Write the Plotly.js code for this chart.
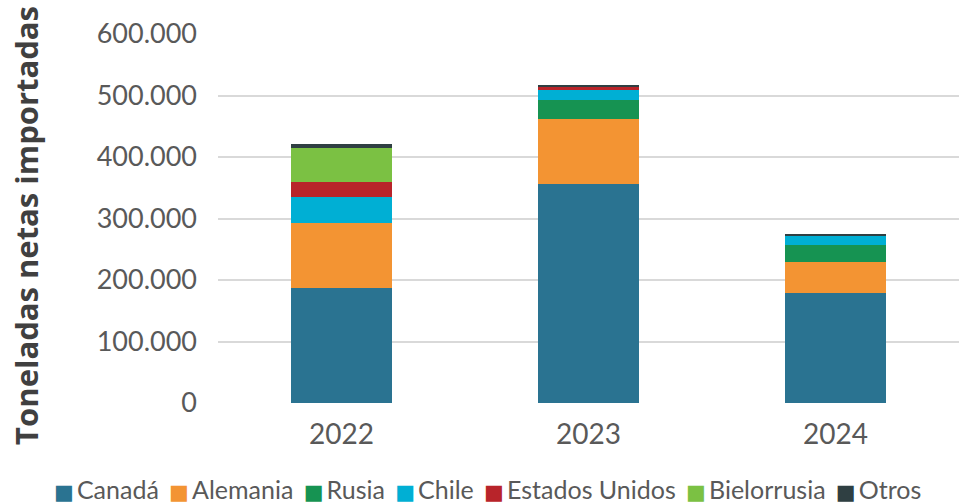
<!DOCTYPE html>
<html><head><meta charset="utf-8">
<script src="https://cdn.plot.ly/plotly-3.0.1.min.js"></script>
<style>body{margin:0;background:#fff}#c{width:959px;height:503px}</style>
</head><body><div id="c"></div>
<script>
const years = ['2022', '2023', '2024'];
const canada = [187000, 356000, 179000];
const alemania = [106000, 106000, 50000];
const rusia = [0, 31000, 28000];
const chile = [42500, 16000, 15000];
const eeuu = [24500, 5000, 0];
const bielorrusia = [54000, 0, 0];
const otros = [6500, 3000, 1500];
const seriesNames = ['Canadá', 'Alemania', 'Rusia', 'Chile', 'Estados Unidos', 'Bielorrusia', 'Otros'];
const seriesVals = [canada, alemania, rusia, chile, eeuu, bielorrusia, otros];
const colors = ['#2a7391', '#f39433', '#169352', '#00afd4', '#b8242a', '#7bc143', '#2f3f42'];
const yTicks = [0, 100000, 200000, 300000, 400000, 500000, 600000];
const yTickText = ['0', '100.000', '200.000', '300.000', '400.000', '500.000', '600.000'];

const traces = seriesNames.map((n, i) => ({
  type: 'bar', name: n, x: years, y: seriesVals[i],
  marker: {color: colors[i], line: {width: 0}}, hoverinfo: 'skip'
}));

const legendText = seriesNames.map((n, i) =>
  '<span style="color:' + colors[i] + ';font-family:DejaVu Sans;font-size:21px">■</span>' +
  '<span style="font-size:12px">&nbsp;</span>' + n).join('<span style="font-size:20px">&nbsp;&nbsp;</span>');

const font = 'Lato, "Open Sans", sans-serif';
Plotly.newPlot('c', traces, {
  width: 959, height: 503,
  barmode: 'stack', bargap: 0.59,
  margin: {l: 218, r: 0, t: 34, b: 100},
  paper_bgcolor: '#fff', plot_bgcolor: '#fff',
  font: {family: font, color: '#595959'},
  xaxis: {tickfont: {size: 28, color: '#595959'}, showline: false, ticks: '', showgrid: false,
          ticklabelstandoff: 12},
  yaxis: {range: [0, 600000], tickvals: yTicks, ticktext: yTickText,
          tickfont: {size: 27, color: '#595959'}, gridcolor: '#d9d9d9', gridwidth: 2,
          zeroline: false, showline: false, ticks: '', ticklabelstandoff: 20},
  showlegend: false,
  annotations: [
    {xref: 'paper', yref: 'paper', x: -0.2591, y: 0.48, xanchor: 'center', yanchor: 'middle',
     text: '<b>Toneladas netas importadas</b>', textangle: -90, showarrow: false,
     font: {size: 31, color: '#404040', family: '"Open Sans", sans-serif'}},
    {xref: 'paper', yref: 'paper', x: 0.3637, y: -0.233, xanchor: 'center', yanchor: 'middle',
     text: legendText, showarrow: false, font: {size: 25, color: '#595959', family: font}}
  ]
}, {displayModeBar: false});
</script></body></html>
